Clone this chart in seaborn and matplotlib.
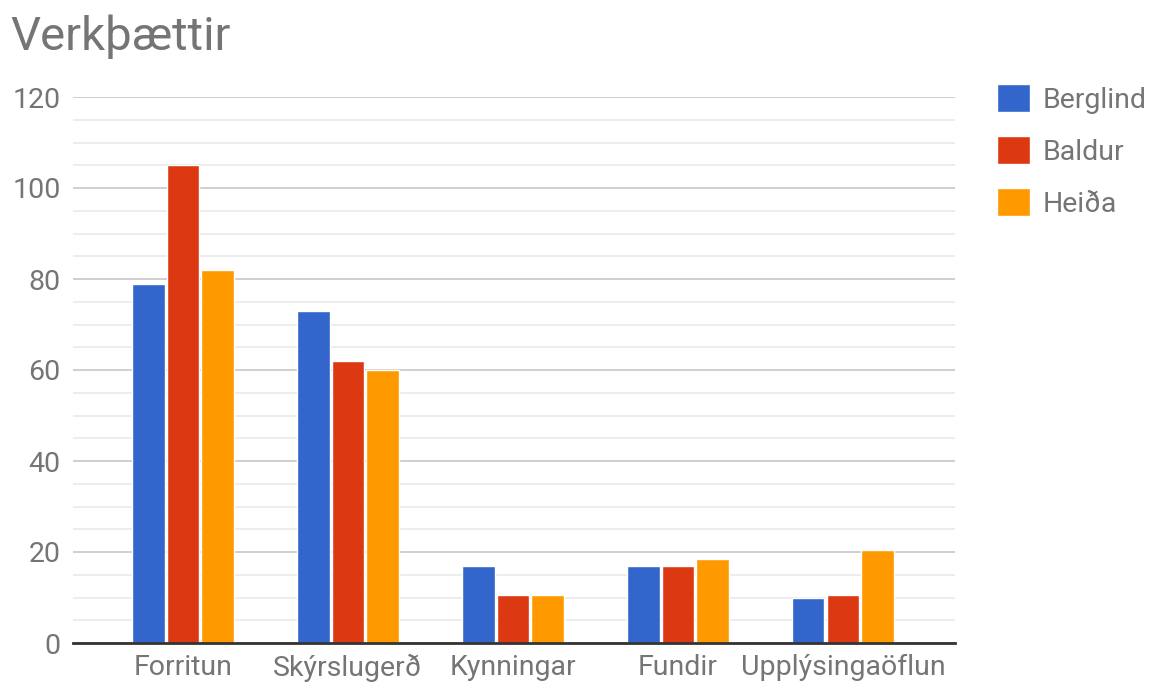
import pandas as pd
import numpy as np
import seaborn as sns
import matplotlib.pyplot as plt
from matplotlib.patches import Patch
from matplotlib.ticker import MultipleLocator

# Data
categories = ['Forritun', 'Skýrslugerð', 'Kynningar', 'Fundir', 'Upplýsingaöflun']
people = ['Berglind', 'Baldur', 'Heiða']
berglind = [79, 73, 17, 17, 10]
baldur = [105, 62, 10.5, 17, 10.5]
heida = [82, 60, 10.5, 18.5, 20.5]
colors = ['#3366CC', '#DC3912', '#FF9900']

df = pd.DataFrame({
    'Verkþáttur': categories * 3,
    'Nafn': [p for p in people for _ in categories],
    'Gildi': berglind + baldur + heida,
})

sns.set_style('white')
plt.rcParams['font.family'] = ['Roboto', 'DejaVu Sans']
text_color = '#757575'

fig = plt.figure(figsize=(11.53, 6.85), dpi=100)
ax = fig.add_axes([73 / 1153, 42 / 685, (955 - 73) / 1153, (643 - 97) / 685])

sns.barplot(data=df, x='Verkþáttur', y='Gildi', hue='Nafn', hue_order=people,
            palette=colors, width=0.63, gap=0.06, saturation=1, legend=False, ax=ax)

ax.set_ylim(0, 120)
ax.set_xlim(-0.667, 4.68)
ax.yaxis.set_major_locator(MultipleLocator(20))
ax.yaxis.set_minor_locator(MultipleLocator(5))
ax.grid(axis='y', which='major', color='#cccccc', linewidth=1.3)
ax.grid(axis='y', which='minor', color='#e8e8e8', linewidth=1.1)
ax.set_axisbelow(True)

for side in ['top', 'right', 'left']:
    ax.spines[side].set_visible(False)
ax.spines['bottom'].set_color('#333333')
ax.spines['bottom'].set_linewidth(2)
ax.spines['bottom'].set_zorder(5)

ax.set_xlabel('')
ax.set_ylabel('')
ax.tick_params(axis='both', which='both', length=0, labelsize=20.5, colors=text_color)
ax.tick_params(axis='y', pad=9)
ax.tick_params(axis='x', pad=8)

handles = [Patch(facecolor=c, label=p) for c, p in zip(colors, people)]
leg = ax.legend(handles=handles, loc='upper left', bbox_to_anchor=(1.035, 1.045),
                frameon=False, fontsize=20.5, handlelength=1.15, handleheight=1.15,
                labelspacing=0.78, handletextpad=0.45, borderaxespad=0)
for t in leg.get_texts():
    t.set_color(text_color)

fig.text(10 / 1153, 1 - 50 / 685, 'Verkþættir', fontsize=34, color=text_color,
         ha='left', va='baseline')

fig.savefig('out.png', dpi=100)
